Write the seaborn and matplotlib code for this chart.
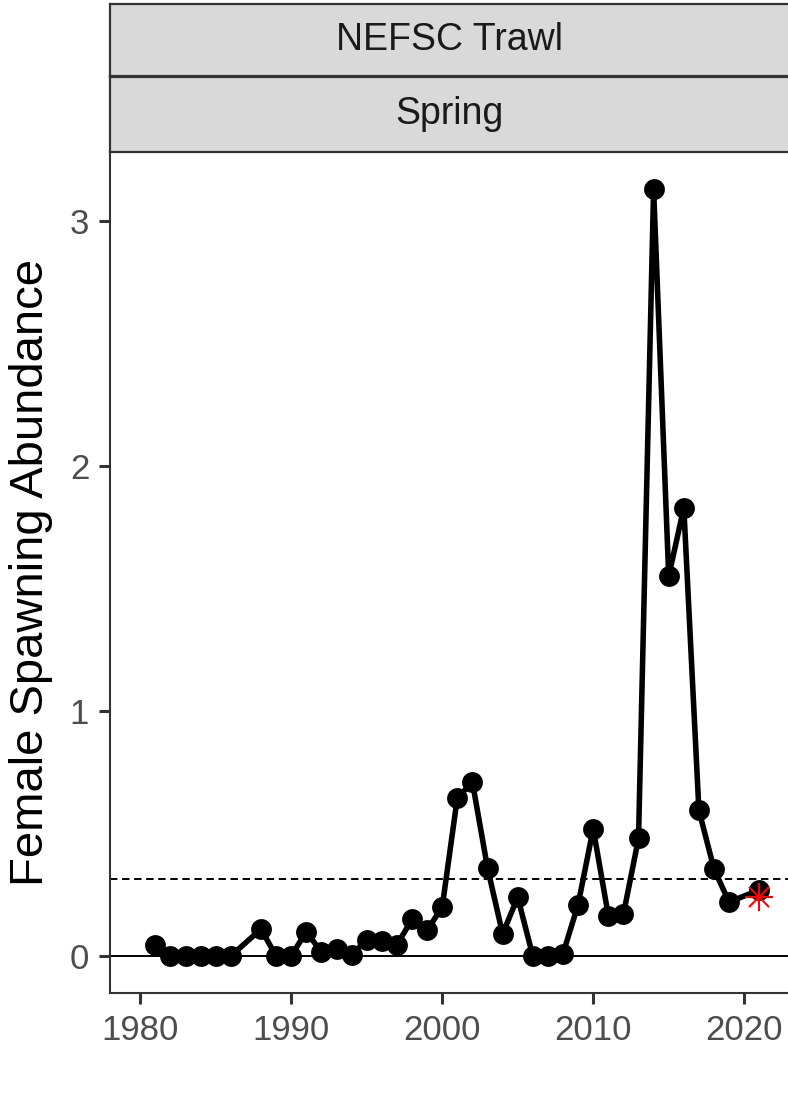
import matplotlib
matplotlib.use("Agg")
import matplotlib.pyplot as plt
import seaborn as sns
import pandas as pd
import numpy as np

years = [1981, 1982, 1983, 1984, 1985, 1986, 1988, 1989, 1990, 1991, 1992, 1993,
         1994, 1995, 1996, 1997, 1998, 1999, 2000, 2001, 2002, 2003, 2004, 2005,
         2006, 2007, 2008, 2009, 2010, 2011, 2012, 2013, 2014, 2015, 2016, 2017,
         2018, 2019, 2021]
abundance = [0.045, 0.0, 0.0, 0.0, 0.0, 0.0, 0.11, 0.0, 0.0, 0.10, 0.015, 0.03,
             0.005, 0.065, 0.06, 0.045, 0.15, 0.105, 0.20, 0.645, 0.71, 0.36, 0.09, 0.24,
             0.0, 0.0, 0.01, 0.21, 0.52, 0.165, 0.17, 0.48, 3.13, 1.55, 1.83, 0.595,
             0.355, 0.22, 0.27]
ref_line = 0.314
star_year = [2021]
star_value = [0.24]
x_ticks = [1980, 1990, 2000, 2010, 2020]
y_ticks = [0, 1, 2, 3]
strip_labels = ["NEFSC Trawl", "Spring"]
y_label = "Female Spawning Abundance"

df = pd.DataFrame({"year": years, "value": abundance})

sns.set_theme(style="white")
plt.rcParams['font.family'] = ['Liberation Sans', 'DejaVu Sans']

W, H = 788, 1102
fig = plt.figure(figsize=(W / 100, H / 100), dpi=100)

def fx(px):
    return px / W

def fy(py):
    return 1 - py / H

ax = fig.add_axes([fx(110), fy(993), 1 - fx(110), fy(152) - fy(993)])

ax.axhline(0, color="black", lw=1.4, zorder=1)
ax.axhline(ref_line, color="black", lw=1.4, linestyle=(0, (3.8, 2.4)), zorder=1)

sns.lineplot(data=df, x="year", y="value", ax=ax, color="black", lw=4,
             marker="o", markersize=15, markeredgewidth=0, zorder=3)

ax.plot(star_year, star_value, linestyle="none", marker="+", markersize=20,
        markeredgewidth=1.5, color="red", zorder=4)
ax.plot(star_year, star_value, linestyle="none", marker="x", markersize=14,
        markeredgewidth=1.5, color="red", zorder=4)

ax.set_xlim(1978.0, 2022.9)
ax.set_ylim(-0.151, 3.282)
ax.set_xticks(x_ticks)
ax.set_yticks(y_ticks)
ax.set_xticklabels([str(v) for v in x_ticks])
ax.set_yticklabels([str(v) for v in y_ticks])
ax.tick_params(axis="both", which="both", length=8, width=2.2, color="#333333",
               labelsize=25, labelcolor="#4D4D4D", pad=7, left=True, bottom=True)
ax.set_xlabel("")
ax.set_ylabel("")

for side in ["top", "right"]:
    ax.spines[side].set_visible(False)
for side in ["left", "bottom"]:
    ax.spines[side].set_color("#333333")
    ax.spines[side].set_linewidth(1.5)
ax.set_facecolor("white")
ax.grid(False)

fig.text(fx(31), fy(572), y_label, rotation=90, ha="center", va="center",
         fontsize=34, color="black")

# facet strips
strip_bounds = [(4, 76), (77, 152)]
for (top, bot), lab in zip(strip_bounds, strip_labels):
    sax = fig.add_axes([fx(110), fy(bot), 1 - fx(110) + 0.01, fy(top) - fy(bot)])
    sax.set_facecolor("#D9D9D9")
    sax.set_xticks([])
    sax.set_yticks([])
    for s in sax.spines.values():
        s.set_color("#333333")
        s.set_linewidth(1.6)
    sax.text(0.5 * (1 - fx(110)) / (1 - fx(110) + 0.01), 0.5, lab,
             transform=sax.transAxes, ha="center", va="center",
             fontsize=27, color="#1A1A1A")

fig.savefig("out.png", dpi=100)
